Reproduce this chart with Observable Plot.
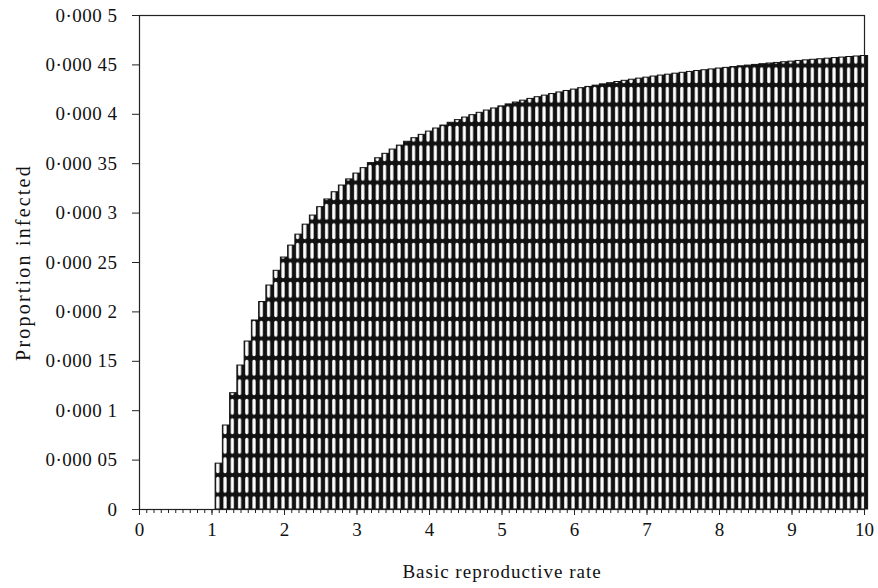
<!DOCTYPE html>
<html><head><meta charset="utf-8">
<script src="https://cdn.jsdelivr.net/npm/d3@7"></script>
<script src="https://cdn.jsdelivr.net/npm/@observablehq/plot@0.6"></script>
<style>
body{margin:0;background:#fff}
#chart svg{font-family:"Liberation Serif","DejaVu Serif",serif}
g[aria-label="y-axis tick label"] text{letter-spacing:0.5px}
g[aria-label="x-axis label"] text{font-size:19px;letter-spacing:1px}
g[aria-label="y-axis label"] text{font-size:20px;letter-spacing:2.2px}
</style>
</head><body><div id="chart"></div>
<script>
const rates = [1.1,1.2,1.3,1.4,1.5,1.6,1.7,1.8,1.9,2.0,
  2.1,2.2,2.3,2.4,2.5,2.6,2.7,2.8,2.9,3.0,
  3.1,3.2,3.3,3.4,3.5,3.6,3.7,3.8,3.9,4.0,
  4.1,4.2,4.3,4.4,4.5,4.6,4.7,4.8,4.9,5.0,
  5.1,5.2,5.3,5.4,5.5,5.6,5.7,5.8,5.9,6.0,
  6.1,6.2,6.3,6.4,6.5,6.6,6.7,6.8,6.9,7.0,
  7.1,7.2,7.3,7.4,7.5,7.6,7.7,7.8,7.9,8.0,
  8.1,8.2,8.3,8.4,8.5,8.6,8.7,8.8,8.9,9.0,
  9.1,9.2,9.3,9.4,9.5,9.6,9.7,9.8,9.9,10.0];
const proportions = [0.0000464,0.0000850,0.0001177,0.0001457,0.0001700,0.0001913,0.0002100,0.0002267,0.0002416,0.0002550,
  0.0002671,0.0002782,0.0002883,0.0002975,0.0003060,0.0003138,0.0003211,0.0003279,0.0003341,0.0003400,
  0.0003455,0.0003506,0.0003555,0.0003600,0.0003643,0.0003683,0.0003722,0.0003758,0.0003792,0.0003825,
  0.0003856,0.0003886,0.0003914,0.0003941,0.0003967,0.0003991,0.0004015,0.0004038,0.0004059,0.0004080,
  0.0004100,0.0004119,0.0004138,0.0004156,0.0004173,0.0004189,0.0004205,0.0004221,0.0004236,0.0004250,
  0.0004264,0.0004277,0.0004290,0.0004303,0.0004315,0.0004327,0.0004339,0.0004350,0.0004361,0.0004371,
  0.0004382,0.0004392,0.0004401,0.0004411,0.0004420,0.0004429,0.0004438,0.0004446,0.0004454,0.0004463,
  0.0004470,0.0004478,0.0004486,0.0004493,0.0004500,0.0004507,0.0004514,0.0004520,0.0004527,0.0004533,
  0.0004540,0.0004546,0.0004552,0.0004557,0.0004563,0.0004569,0.0004574,0.0004580,0.0004585,0.0004590];
const xTicks = [0,1,2,3,4,5,6,7,8,9,10];
const xMinorTicks = d3.range(0, 101).map(i => i / 10);
const yTicks = [0,0.00005,0.0001,0.00015,0.0002,0.00025,0.0003,0.00035,0.0004,0.00045,0.0005];
const yTickLabels = ["0","0·000 05","0·000 1","0·000 15","0·000 2","0·000 25","0·000 3","0·000 35","0·000 4","0·000 45","0·000 5"];
const halfStep = 0.05;

const data = rates.map((r, i) => ({rate: r, proportion: proportions[i]}));

const chart = Plot.plot({
  width: 878,
  height: 588,
  marginLeft: 139,
  marginRight: 14,
  marginTop: 15,
  marginBottom: 79,
  style: {fontSize: "19px", fontFamily: "'Liberation Serif', serif", color: "#111", background: "#fff"},
  x: {domain: [0, 10]},
  y: {domain: [0, 0.0005]},
  marks: [
    Plot.rectY(data, {x1: d => d.rate - halfStep, x2: d => d.rate + halfStep, y: "proportion",
      fill: "url(#cells)", stroke: "#111", strokeWidth: 1}),
    Plot.frame({stroke: "#222", strokeWidth: 1.2}),
    Plot.axisX({ticks: xMinorTicks, tickSize: 4, tickFormat: () => "", label: null, stroke: "#222"}),
    Plot.axisX({ticks: xTicks, tickSize: 6, tickPadding: 7, tickFormat: d => String(d),
      label: "Basic reproductive rate", labelAnchor: "center", labelOffset: 68, labelArrow: "none", stroke: "#222"}),
    Plot.axisY({ticks: yTicks, tickSize: 7, tickPadding: 15,
      tickFormat: d => yTickLabels[yTicks.indexOf(d)],
      label: "Proportion infected", labelAnchor: "center", labelOffset: 124, labelArrow: "none", stroke: "#222"})
  ]
});

document.getElementById("chart").appendChild(chart);

// bar texture pattern aligned with bar positions via the plot's own scales
const xs = chart.scale("x"), ys = chart.scale("y");
const step = xs.apply(0.1) - xs.apply(0);
const cellH = 19.5;
const svg = d3.select(chart);
const defs = svg.insert("defs", ":first-child");
const pat = defs.append("pattern").attr("id", "cells").attr("patternUnits", "userSpaceOnUse")
  .attr("x", xs.apply(1.1 - halfStep)).attr("y", ys.apply(0) - 14.5)
  .attr("width", step).attr("height", cellH);
pat.append("rect").attr("width", step).attr("height", cellH).attr("fill", "#111");
pat.append("rect").attr("x", 1.1).attr("y", 1.8).attr("width", step - 4.1).attr("height", cellH - 3.6)
  .attr("rx", 1.5).attr("fill", "#fff");
</script>
</body></html>
